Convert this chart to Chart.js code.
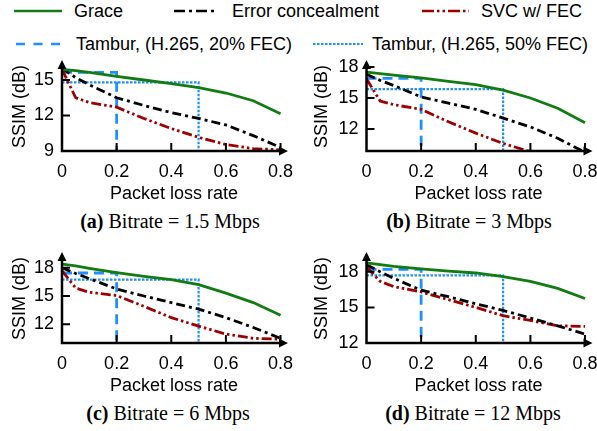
<!DOCTYPE html>
<html><head><meta charset="utf-8">
<script src="https://cdn.jsdelivr.net/npm/chart.js@4/dist/chart.umd.min.js"></script>
<style>
body{margin:0;width:597px;height:431px;background:#fff;position:relative;overflow:hidden;font-family:"Liberation Sans",Arial,sans-serif;}
canvas.pc{position:absolute;}
.lt{position:absolute;font-size:18px;line-height:18px;color:#000;white-space:nowrap;}
svg.ls{position:absolute;overflow:visible;}
.cap{position:absolute;font-family:"Liberation Serif","Times New Roman",serif;font-size:20px;line-height:20px;color:#000;white-space:nowrap;transform:translateX(-50%);}
</style></head><body>

<svg class="ls" style="left:0;top:0" width="597" height="60">
  <line x1="14" y1="11" x2="62" y2="11" stroke="#127c12" stroke-width="2.5"/>
  <line x1="174" y1="11" x2="218" y2="11" stroke="#000" stroke-width="2.5" stroke-dasharray="11 4 3 4"/>
  <line x1="422" y1="11" x2="469" y2="11" stroke="#9e0000" stroke-width="2.5" stroke-dasharray="12 3 2.5 3 2.5 3"/>
  <line x1="16" y1="44" x2="60" y2="44" stroke="#1e8fff" stroke-width="2.5" stroke-dasharray="9 8.5"/>
  <line x1="313" y1="44" x2="363" y2="44" stroke="#1e8fff" stroke-width="2" stroke-dasharray="2.5 1.5"/>
</svg>
<div class="lt" style="left:74px;top:2px">Grace</div>
<div class="lt" style="left:232px;top:2px">Error concealment</div>
<div class="lt" style="left:481px;top:2px">SVC w/ FEC</div>
<div class="lt" style="left:76px;top:35px">Tambur, (H.265, 20% FEC)</div>
<div class="lt" style="left:372px;top:35px">Tambur, (H.265, 50% FEC)</div>

<canvas class="pc" id="ca" width="298" height="155" style="left:0;top:50px"></canvas>
<canvas class="pc" id="cb" width="299" height="155" style="left:298px;top:50px"></canvas>
<canvas class="pc" id="cc" width="298" height="155" style="left:0;top:242px"></canvas>
<canvas class="pc" id="cd" width="299" height="155" style="left:298px;top:242px"></canvas>

<div class="cap" style="left:170px;top:211px"><b>(a)</b> Bitrate = 1.5 Mbps</div>
<div class="cap" style="left:469px;top:211px"><b>(b)</b> Bitrate = 3 Mbps</div>
<div class="cap" style="left:168px;top:403px"><b>(c)</b> Bitrate = 6 Mbps</div>
<div class="cap" style="left:473px;top:403px"><b>(d)</b> Bitrate = 12 Mbps</div>

<script>
// ---- data ----
const lossRate = [0, 0.05, 0.1, 0.2, 0.3, 0.4, 0.5, 0.6, 0.7, 0.8];
const xTicks = [0, 0.2, 0.4, 0.6, 0.8];

const graceA = [15.9, 15.8, 15.65, 15.3, 15.0, 14.7, 14.35, 13.9, 13.25, 12.15];
const graceB = [17.5, 17.35, 17.2, 16.95, 16.6, 16.3, 15.75, 15.0, 14.0, 12.6];
const graceC = [18.4, 18.2, 17.95, 17.5, 17.1, 16.75, 16.2, 15.3, 14.3, 12.95];
const graceD = [18.75, 18.6, 18.45, 18.25, 18.05, 17.9, 17.6, 17.2, 16.6, 15.75];

const errA = [16.0, 15.2, 14.6, 13.5, 12.85, 12.25, 11.75, 11.2, 10.3, 9.3];
const errB = [17.3, 16.7, 16.2, 15.1, 14.5, 13.9, 13.05, 12.2, 11.1, 9.75];
const errC = [18.0, 17.4, 16.85, 15.75, 15.0, 14.3, 13.6, 12.7, 11.65, 10.5];
const errD = [18.6, 18.0, 17.45, 16.45, 15.9, 15.3, 14.75, 14.1, 13.45, 12.75];

const svcA = [15.9, 13.5, 13.1, 12.7, 11.75, 10.9, 10.15, 9.55, 9.2, 9.1];
const svcB = [16.85, 14.7, 14.35, 13.9, 12.7, 11.6, 10.6, 9.8, null, null];
const svcC = [17.7, 15.85, 15.4, 15.05, 13.9, 12.7, 11.8, 10.95, 10.5, 10.4];
const svcD = [18.4, 17.2, 16.75, 16.3, 15.65, 15.0, 14.3, 13.9, 13.45, 13.4];

const tambur20Level = [15.65, 16.9, 17.45, 18.2];   // panels a..d
const tambur50Level = [14.8, 15.85, 16.75, 17.7];
const tambur20Loss = 0.2;
const tambur50Loss = 0.5;

const yMinArr = [9, 9.87, 10.0, 12];
const yMaxArr = [16.52, 18.48, 19.47, 19.5];
const yTicksA = [9, 12, 15];
const yTicksB = [12, 15, 18];
const yTicksC = [12, 15, 18];
const yTicksD = [12, 15, 18];
const xMax = 0.82;

// ---- drawing ----
const GREEN = '#127c12', BLACK = '#000000', RED = '#9e0000', BLUE = '#1e8fff';

const axisDeco = {
  id: 'axisDeco',
  afterDraw(chart) {
    const {ctx, chartArea: a} = chart;
    const x = chart.scales.x, y = chart.scales.y;
    ctx.save();
    ctx.strokeStyle = '#000'; ctx.fillStyle = '#000';
    ctx.lineWidth = 2.5; ctx.lineCap = 'butt';
    ctx.beginPath();
    ctx.moveTo(a.left, a.bottom + 1.25); ctx.lineTo(a.left, a.top + 5);
    ctx.moveTo(a.left - 1.25, a.bottom); ctx.lineTo(a.right - 5, a.bottom);
    ctx.stroke();
    ctx.lineWidth = 2;
    ctx.beginPath();
    x.ticks.forEach(t => {
      if (t.value > x.min + 1e-9) { const px = x.getPixelForValue(t.value); ctx.moveTo(px, a.bottom); ctx.lineTo(px, a.bottom - 8); }
    });
    y.ticks.forEach(t => {
      if (t.value > y.min + 1e-9) { const py = y.getPixelForValue(t.value); ctx.moveTo(a.left, py); ctx.lineTo(a.left + 8, py); }
    });
    ctx.stroke();
    ctx.beginPath();
    ctx.moveTo(a.left, a.top - 2); ctx.lineTo(a.left - 4.5, a.top + 7); ctx.lineTo(a.left + 4.5, a.top + 7); ctx.closePath();
    ctx.moveTo(a.right + 2, a.bottom); ctx.lineTo(a.right - 7, a.bottom - 4.5); ctx.lineTo(a.right - 7, a.bottom + 4.5); ctx.closePath();
    ctx.fill();
    ctx.restore();
  }
};

function pts(vals) {
  return lossRate.map((x, i) => ({x: x, y: vals[i]})).filter(p => p.y !== null);
}

function makePanel(id, idx, grace, err, svc, yTicks, yAxisWidth, yTitlePad, rightPad) {
  const ymin = yMinArr[idx], ymax = yMaxArr[idx];
  const common = {borderWidth: 2.8, pointRadius: 0, tension: 0, fill: false};
  const datasets = [
    Object.assign({label: 'Grace', data: pts(grace), borderColor: GREEN}, common),
    Object.assign({label: 'Error concealment', data: pts(err), borderColor: BLACK, borderDash: [9, 4, 3, 4]}, common),
    Object.assign({label: 'SVC w/ FEC', data: pts(svc), borderColor: RED, borderDash: [10, 3, 2.5, 3, 2.5, 3]}, common),
    Object.assign({label: 'Tambur, (H.265, 20% FEC)', borderColor: BLUE, borderDash: [10, 6],
      data: [{x: 0, y: tambur20Level[idx]}, {x: tambur20Loss, y: tambur20Level[idx]}, {x: tambur20Loss, y: ymin}]}, common),
    Object.assign({label: 'Tambur, (H.265, 50% FEC)', borderColor: BLUE, borderDash: [2.5, 1.5],
      data: [{x: 0, y: tambur50Level[idx]}, {x: tambur50Loss, y: tambur50Level[idx]}, {x: tambur50Loss, y: ymin}]}, common),
  ];
  datasets[4].borderWidth = 2.2;
  const font = {family: '"Liberation Sans", Arial, sans-serif', size: 18};
  const tickFont = {family: '"Liberation Sans", Arial, sans-serif', size: 18};
  new Chart(document.getElementById(id), {
    type: 'line',
    data: {datasets},
    options: {
      responsive: false, animation: false, devicePixelRatio: 1,
      layout: {padding: {left: 0, top: 12, right: rightPad, bottom: 0}},
      plugins: {legend: {display: false}, tooltip: {enabled: false}},
      scales: {
        x: {
          type: 'linear', min: 0, max: xMax,
          grid: {display: false, drawTicks: false}, border: {display: false},
          afterBuildTicks: s => { s.ticks = xTicks.map(v => ({value: v})); },
          afterFit: s => { s.height = 54; s.paddingLeft = 0; s.paddingRight = 0; },
          ticks: {color: '#000', font: tickFont, padding: 10, maxRotation: 0, autoSkip: false,
            callback: v => (v === 0 ? '0' : v.toFixed(1))},
          title: {display: true, text: 'Packet loss rate', color: '#000', font, padding: {top: 0, bottom: 0}}
        },
        y: {
          type: 'linear', min: ymin, max: ymax,
          grid: {display: false, drawTicks: false}, border: {display: false},
          afterBuildTicks: s => { s.ticks = yTicks.map(v => ({value: v})); },
          afterFit: s => { s.width = yAxisWidth; s.paddingTop = 0; s.paddingBottom = 0; },
          ticks: {color: '#000', font: tickFont, padding: 8, autoSkip: false, callback: v => String(v)},
          title: {display: true, text: 'SSIM (dB)', color: '#000', font, padding: {top: yTitlePad, bottom: 0}}
        }
      }
    },
    plugins: [axisDeco]
  });
}

makePanel('ca', 0, graceA, errA, svcA, yTicksA, 62, 9.5, 12);
makePanel('cb', 1, graceB, errB, svcB, yTicksB, 68.5, 13, 6.5);
makePanel('cc', 2, graceC, errC, svcC, yTicksC, 62, 9.5, 12);
makePanel('cd', 3, graceD, errD, svcD, yTicksD, 68.5, 13, 6.5);
</script>
</body></html>
